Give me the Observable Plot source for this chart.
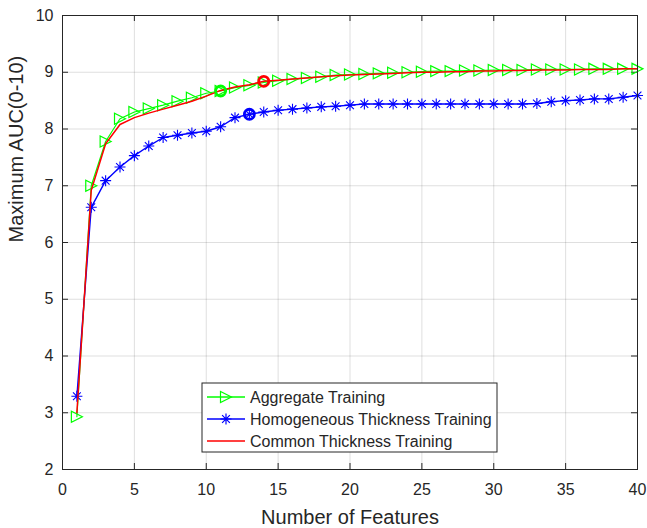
<!DOCTYPE html>
<html>
<head>
<meta charset="utf-8">
<script src="https://cdn.jsdelivr.net/npm/d3@7"></script>
<script src="https://cdn.jsdelivr.net/npm/@observablehq/plot@0.6"></script>
<style>
  html, body { margin: 0; padding: 0; background: #ffffff; }
  #chart svg { display: block; }
</style>
</head>
<body>
<div id="chart"></div>
<script>
// Number of selected features (x) and the best AUC reached for each count.
const features = [1, 2, 3, 4, 5, 6, 7, 8, 9, 10, 11, 12, 13, 14, 15, 16, 17, 18, 19, 20,
                  21, 22, 23, 24, 25, 26, 27, 28, 29, 30, 31, 32, 33, 34, 35, 36, 37, 38, 39, 40];

const aggregate = [2.93, 7.00, 7.78, 8.18, 8.30, 8.36, 8.42, 8.49, 8.55, 8.63,
                   8.67, 8.73, 8.77, 8.82, 8.85, 8.88, 8.90, 8.92, 8.95, 8.96,
                   8.97, 8.98, 8.99, 9.00, 9.01, 9.02, 9.02, 9.03, 9.03, 9.04,
                   9.04, 9.04, 9.05, 9.05, 9.05, 9.05, 9.06, 9.06, 9.06, 9.06];

const homogeneous = [3.29, 6.62, 7.09, 7.33, 7.53, 7.70, 7.85, 7.89, 7.93, 7.96,
                     8.04, 8.20, 8.26, 8.30, 8.33, 8.35, 8.37, 8.39, 8.40, 8.42,
                     8.44, 8.44, 8.44, 8.44, 8.44, 8.44, 8.44, 8.44, 8.44, 8.44,
                     8.44, 8.44, 8.45, 8.48, 8.50, 8.51, 8.53, 8.53, 8.56, 8.59];

const common = [3.00, 6.92, 7.74, 8.08, 8.20, 8.28, 8.35, 8.42, 8.49, 8.58,
                8.68, 8.74, 8.78, 8.84, 8.86, 8.88, 8.90, 8.92, 8.94, 8.95,
                8.96, 8.97, 8.98, 8.99, 9.00, 9.00, 9.01, 9.01, 9.02, 9.02,
                9.03, 9.03, 9.04, 9.04, 9.04, 9.05, 9.05, 9.05, 9.06, 9.06];

const seriesNames = ["Aggregate Training", "Homogeneous Thickness Training", "Common Thickness Training"];
const seriesColors = ["#00ff00", "#0000ff", "#ff0000"];
// Feature count picked for each series (circled on the curve).
const chosenFeatures = [11, 13, 14];

const xTicks = [0, 5, 10, 15, 20, 25, 30, 35, 40];
const yTicks = [2, 3, 4, 5, 6, 7, 8, 9, 10];

const xLabel = "Number of Features";
const yLabel = "Maximum AUC(0-10)";

// Build the tables the marks read from.
const seriesValues = [aggregate, homogeneous, common];
const rows = features.map((f, i) => ({f, a: aggregate[i], h: homogeneous[i], c: common[i]}));
const chosen = chosenFeatures.map((f, k) => ({
  f,
  v: seriesValues[k][features.indexOf(f)],
  color: seriesColors[k]
}));

// Marker shapes: right-pointing triangle and an eight-spoke asterisk.
const triangleRight = {
  draw(context, size) {
    const a = Math.sqrt(size / Math.PI);
    context.moveTo(a, 0);
    context.lineTo(-a, -a);
    context.lineTo(-a, a);
    context.closePath();
  }
};
const asterisk = {
  draw(context, size) {
    const r = Math.sqrt(size / Math.PI);
    const d = r * Math.SQRT1_2;
    context.moveTo(-r, 0); context.lineTo(r, 0);
    context.moveTo(0, -r); context.lineTo(0, r);
    context.moveTo(-d, -d); context.lineTo(d, d);
    context.moveTo(-d, d); context.lineTo(d, -d);
  }
};

const W = 647, H = 528;
const M = {top: 15, right: 10, bottom: 59, left: 62};
const innerW = W - M.left - M.right;
const innerH = H - M.top - M.bottom;
const tickLen = 6;
const ink = "#262626";
const fontFamily = "'Liberation Sans', Arial, sans-serif";

const svg = Plot.plot({
  width: W,
  height: H,
  marginTop: M.top,
  marginRight: M.right,
  marginBottom: M.bottom,
  marginLeft: M.left,
  style: {fontFamily, fontSize: "16px", color: ink, background: "#ffffff"},
  x: {domain: [0, 40]},
  y: {domain: [2, 10]},
  marks: [
    Plot.gridX(xTicks, {stroke: ink, strokeOpacity: 0.15, strokeWidth: 1}),
    Plot.gridY(yTicks, {stroke: ink, strokeOpacity: 0.15, strokeWidth: 1}),
    // inward tick marks on all four sides
    Plot.tickX(xTicks, {x: d => d, stroke: ink, insetTop: innerH - tickLen}),
    Plot.tickX(xTicks, {x: d => d, stroke: ink, insetBottom: innerH - tickLen}),
    Plot.tickY(yTicks, {y: d => d, stroke: ink, insetRight: innerW - tickLen}),
    Plot.tickY(yTicks, {y: d => d, stroke: ink, insetLeft: innerW - tickLen}),
    Plot.axisX(xTicks, {tickSize: 0, tickPadding: 14, tickFormat: d3.format("d"), label: null, fill: ink, fontSize: 16}),
    Plot.axisY(yTicks, {tickSize: 0, tickPadding: 9, tickFormat: d3.format("d"), label: null, fill: ink, fontSize: 16}),
    // series
    Plot.line(rows, {x: "f", y: "a", stroke: seriesColors[0], strokeWidth: 1.2}),
    Plot.dot(rows, {x: "f", y: "a", symbol: triangleRight, r: 5.5, fill: "none", stroke: seriesColors[0], strokeWidth: 1.2}),
    Plot.line(rows, {x: "f", y: "h", stroke: seriesColors[1], strokeWidth: 1.4}),
    Plot.dot(rows, {x: "f", y: "h", symbol: asterisk, r: 5.5, fill: "none", stroke: seriesColors[1], strokeWidth: 1.1}),
    Plot.line(rows, {x: "f", y: "c", stroke: seriesColors[2], strokeWidth: 1.5}),
    // chosen feature counts
    Plot.dot(chosen, {x: "f", y: "v", r: 5, fill: "none", stroke: "color", strokeWidth: 2.8}),
    Plot.frame({stroke: ink, strokeWidth: 1}),
    // axis titles
    Plot.text([xLabel], {frameAnchor: "bottom", dy: 54, lineAnchor: "bottom", fontSize: 20, fill: ink}),
    Plot.text([yLabel], {frameAnchor: "left", dx: -40, rotate: -90, lineAnchor: "bottom", fontSize: 20, fill: ink})
  ]
});

// Legend box inside the plot area, lower middle.
const legend = d3.select(svg).append("g")
  .attr("transform", "translate(202,383)")
  .attr("font-family", fontFamily)
  .attr("font-size", 16)
  .attr("text-anchor", "start");
legend.append("rect")
  .attr("width", 295).attr("height", 69)
  .attr("fill", "#ffffff").attr("stroke", ink).attr("stroke-width", 1);
const rowY = [14, 36, 58];
const shapes = [triangleRight, asterisk, null];
seriesNames.forEach((name, k) => {
  const g = legend.append("g").attr("transform", `translate(0,${rowY[k]})`);
  g.append("line").attr("x1", 5).attr("x2", 43).attr("y1", 0).attr("y2", 0)
    .attr("stroke", seriesColors[k]).attr("stroke-width", 1.4);
  if (shapes[k]) {
    g.append("path")
      .attr("transform", "translate(24,0)")
      .attr("d", d3.symbol(shapes[k], 5.5 * 5.5 * Math.PI)())
      .attr("fill", "none").attr("stroke", seriesColors[k]).attr("stroke-width", 1.2);
  }
  g.append("text").attr("x", 48).attr("dy", "0.35em")
    .attr("text-anchor", "start").attr("fill", ink).text(name);
});

document.getElementById("chart").appendChild(svg);
</script>
</body>
</html>
